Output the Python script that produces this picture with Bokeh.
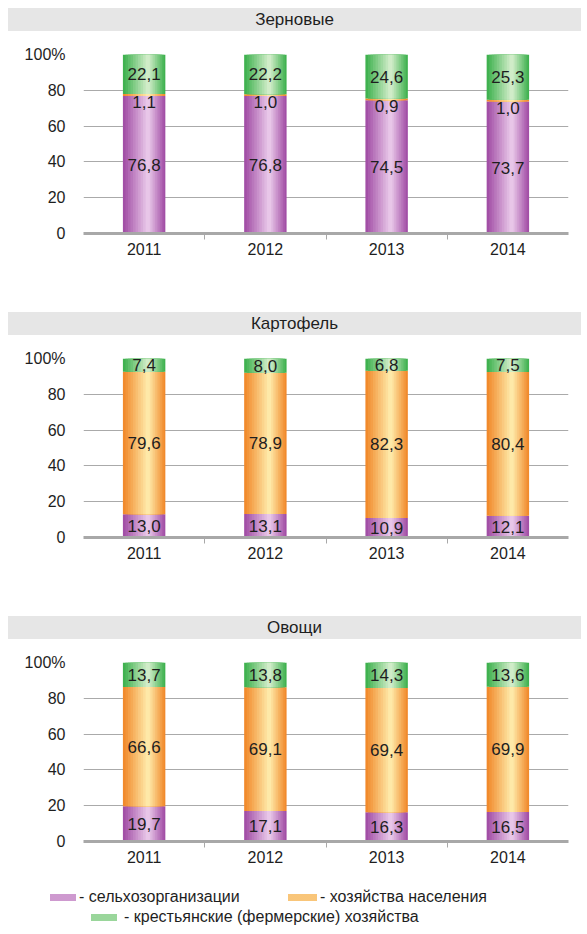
from bokeh.plotting import figure
from bokeh.layouts import column
from bokeh.models import (FactorRange, Range1d, FixedTicker, Div, LinearAxis,
                          CategoricalAxis, ColumnDataSource)
from bokeh.transform import dodge
from bokeh.core.properties import value
from bokeh.embed import file_html
from bokeh.resources import INLINE

# ---------------- data ----------------
years = ["2011", "2012", "2013", "2014"]

grain_org = [76.8, 76.8, 74.5, 73.7]
grain_hh = [1.1, 1.0, 0.9, 1.0]
grain_farm = [22.1, 22.2, 24.6, 25.3]

potato_org = [13.0, 13.1, 10.9, 12.1]
potato_hh = [79.6, 78.9, 82.3, 80.4]
potato_farm = [7.4, 8.0, 6.8, 7.5]

veg_org = [19.7, 17.1, 16.3, 16.5]
veg_hh = [66.6, 69.1, 69.4, 69.9]
veg_farm = [13.7, 13.8, 14.3, 13.6]

titles = ["Зерновые", "Картофель", "Овощи"]
legend_labels = ["- сельхозорганизации", "- хозяйства населения",
                 "- крестьянские (фермерские) хозяйства"]
y_ticks = [0, 20, 40, 60, 80, 100]
boundary_ticks = [1, 2, 3]   # separators between the year categories

# ---------------- style ----------------
FONT = "Liberation Sans"
TXT = "#1e1e1e"
HDR = "#e6e6e6"
AXC = "#a8a8a8"
W = 573
BAR_W = 0.35
N = 10
SHIFT = 0.03
PURPLE = ("#a24fa6", "#e8c6e8")
ORANGE = ("#f18a2c", "#fee9a8")
GREEN = ("#40b250", "#d0ecc8")


def mix(c1, c2, t):
    a = [int(c1[i:i + 2], 16) for i in (1, 3, 5)]
    b = [int(c2[i:i + 2], 16) for i in (1, 3, 5)]
    return "#%02x%02x%02x" % tuple(round(x + (y - x) * t) for x, y in zip(a, b))


def fmt(v):
    return ("%.1f" % v).replace(".", ",")


def header(title):
    return Div(text=title, width=W, height=23, margin=0,
               styles={"background-color": HDR, "text-align": "center",
                       "font-family": FONT, "font-size": "17px",
                       "line-height": "23px", "color": TXT,
                       "width": "%dpx" % W, "height": "23px",
                       "overflow": "hidden", "white-space": "nowrap"})


def panel(org, hh, farm, height, bottom_border):
    p = figure(width=W, height=height,
               x_range=FactorRange(*years, range_padding=0),
               y_range=Range1d(0, 100), toolbar_location=None,
               output_backend="svg", min_border_left=75,
               min_border_right=13, min_border_top=23,
               min_border_bottom=bottom_border, outline_line_color=None,
               margin=0, x_axis_location=None)
    b1 = list(org)
    b2 = [o + h for o, h in zip(org, hh)]
    b3 = [b + f for b, f in zip(b2, farm)]
    src = ColumnDataSource(dict(x=years, b0=[0] * 4, b1=b1, b2=b2, b3=b3))
    series = [("b0", "b1", PURPLE, org), ("b1", "b2", ORANGE, hh),
              ("b2", "b3", GREEN, farm)]
    lx, ly, lt, sx, sy, st = [], [], [], [], [], []
    for bot, top, (edge, center), vals in series:
        for i in range(N):
            t = i / (N - 1)
            p.vbar(x=dodge("x", SHIFT * t, range=p.x_range), bottom=bot,
                   top=top, width=BAR_W * (1 - i / N), source=src,
                   fill_color=mix(edge, center, t), line_color=None)
        for k, yv in enumerate(years):
            lo = src.data[bot][k]
            hi = src.data[top][k]
            if vals[k] >= 3:
                lx.append(yv); ly.append((lo + hi) / 2); lt.append(fmt(vals[k]))
            else:
                sx.append(yv); sy.append(lo); st.append(fmt(vals[k]))
    p.text(x=lx, y=ly, text=lt, text_align="center", text_baseline="middle",
           text_font=value(FONT), text_font_size="17px", text_color=TXT)
    p.text(x=sx, y=sy, text=st, text_align="center", text_baseline="top",
           text_font=value(FONT), text_font_size="17px", text_color=TXT)

    # bottom axis line with separator ticks, then the year labels
    tick_axis = LinearAxis(ticker=FixedTicker(ticks=boundary_ticks),
                           axis_line_color=AXC, axis_line_width=3,
                           major_tick_line_color=AXC, major_tick_line_width=1,
                           major_tick_in=0, major_tick_out=6,
                           minor_tick_line_color=None,
                           major_label_text_font_size="1px",
                           major_label_text_alpha=0,
                           major_label_standoff=0)
    p.add_layout(tick_axis, "below")
    cat_axis = CategoricalAxis(axis_line_color=None,
                               major_tick_line_color=None,
                               major_tick_in=0, major_tick_out=0,
                               major_label_standoff=3,
                               major_label_text_font=FONT,
                               major_label_text_font_size="16px",
                               major_label_text_color=TXT)
    p.add_layout(cat_axis, "below")

    p.yaxis.ticker = FixedTicker(ticks=y_ticks)
    p.yaxis.major_label_overrides = {100: "100%"}
    p.yaxis.axis_line_color = None
    p.yaxis.major_tick_line_color = None
    p.yaxis.minor_tick_line_color = None
    p.yaxis.major_label_standoff = 12
    p.yaxis.major_label_text_font = FONT
    p.yaxis.major_label_text_font_size = "16px"
    p.yaxis.major_label_text_color = TXT
    p.ygrid.ticker = FixedTicker(ticks=y_ticks)
    p.ygrid.grid_line_color = "#aaaaaa"
    return p


h1 = header(titles[0])
p1 = panel(grain_org, grain_hh, grain_farm, 281, 79)
h2 = header(titles[1])
p2 = panel(potato_org, potato_hh, potato_farm, 281, 79)
h3 = header(titles[2])
p3 = panel(veg_org, veg_hh, veg_farm, 233, 31)


# ---------------- legend (HTML) ----------------
def swatch(colors, left, top, width):
    edge, center = colors
    e = mix(edge, center, 0.25)
    return ('<div style="position:absolute;left:%dpx;top:%dpx;width:%dpx;'
            'height:7px;background:repeating-linear-gradient(to bottom,'
            '%s 0px,%s 1px,%s 2px);"></div>' % (left, top, width, e, center, e))


def label(text, left, top):
    return ('<span style="position:absolute;left:%dpx;top:%dpx;'
            'line-height:18px;white-space:nowrap;">%s</span>'
            % (left, top, text))


legend_html = (
    '<div style="position:relative;width:%dpx;height:54px;font-family:%s;'
    'font-size:16px;color:%s;">' % (W, FONT, TXT)
    + swatch(PURPLE, 42, 22, 26) + label(legend_labels[0], 71, 16)
    + swatch(ORANGE, 280, 22, 29) + label(legend_labels[1], 312, 16)
    + swatch(GREEN, 83, 42, 26) + label(legend_labels[2], 116, 36)
    + '</div>')
lg = Div(text=legend_html, width=W, height=54, margin=0)

layout = column(h1, p1, h2, p2, h3, p3, lg, margin=(8, 8, 0, 8))
open("out.html", "w").write(file_html(layout, INLINE))
